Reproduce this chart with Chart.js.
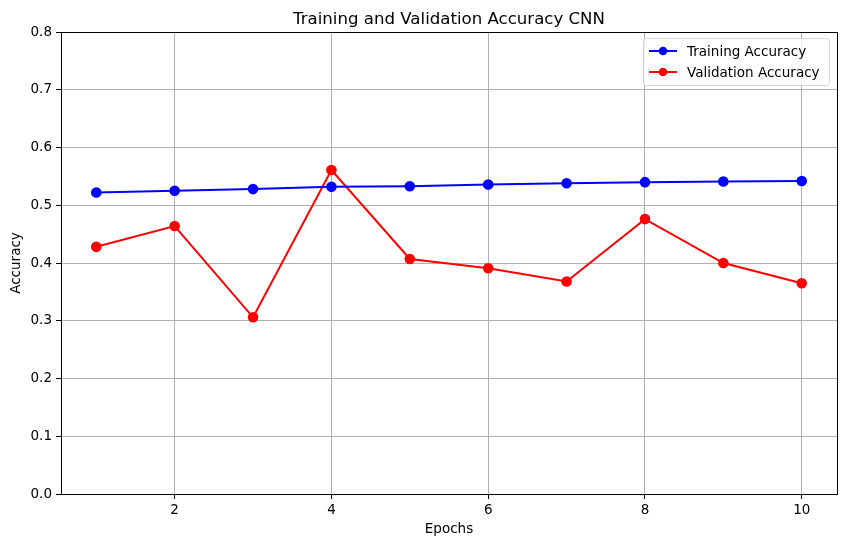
<!DOCTYPE html>
<html>
<head>
    <script src="https://cdn.jsdelivr.net/npm/chart.js@4.4.0/dist/chart.umd.min.js"></script>
    <style>
        html, body { margin: 0; padding: 0; background: #fff; }
        #wrap { width: 846px; height: 547px; }
    </style>
</head>
<body>
    <div id="wrap"><canvas id="grafico" width="846" height="547"></canvas></div>

    <script>
        const epochs = [1, 2, 3, 4, 5, 6, 7, 8, 9, 10];
        const trainAcc = [0.522, 0.525, 0.528, 0.532, 0.533, 0.536, 0.538, 0.540, 0.541, 0.542];
        const valAcc = [0.428, 0.464, 0.306, 0.561, 0.407, 0.391, 0.368, 0.476, 0.400, 0.365];
        const xTicks = [2, 4, 6, 8, 10];
        const yTicks = [0, 0.1, 0.2, 0.3, 0.4, 0.5, 0.6, 0.7, 0.8];

        const font = "'DejaVu Sans', sans-serif";

        function pts(vals) {
            return epochs.map((e, i) => ({ x: e, y: vals[i] }));
        }

        // frame, title and matplotlib-like legend
        const extras = {
            id: 'extras',
            afterDraw(chart) {
                const ctx = chart.ctx;
                const a = chart.chartArea;
                ctx.save();
                ctx.strokeStyle = '#000';
                ctx.lineWidth = 1;
                ctx.strokeRect(Math.round(a.left) + 0.5, Math.round(a.top) + 0.5,
                    Math.round(a.right - a.left), Math.round(a.bottom - a.top));

                ctx.fillStyle = '#000';
                ctx.font = '16.6px ' + font;
                ctx.textAlign = 'center';
                ctx.textBaseline = 'alphabetic';
                ctx.fillText('Training and Validation Accuracy CNN', (a.left + a.right) / 2, 24);

                // legend
                const bx = 643, by = 38, bw = 186, bh = 47;
                ctx.fillStyle = 'rgba(255,255,255,0.8)';
                ctx.strokeStyle = '#d6d6d6';
                ctx.beginPath();
                ctx.roundRect(bx + 0.5, by + 0.5, bw, bh, 3);
                ctx.fill();
                ctx.stroke();
                ctx.font = '13.5px ' + font;
                ctx.textAlign = 'left';
                ctx.textBaseline = 'middle';
                chart.data.datasets.forEach((ds, i) => {
                    const cy = by + 13 + i * 21;
                    ctx.strokeStyle = ds.borderColor;
                    ctx.lineWidth = 2;
                    ctx.beginPath();
                    ctx.moveTo(bx + 6, cy);
                    ctx.lineTo(bx + 34, cy);
                    ctx.stroke();
                    ctx.fillStyle = ds.backgroundColor;
                    ctx.beginPath();
                    ctx.arc(bx + 20, cy, 4.3, 0, Math.PI * 2);
                    ctx.fill();
                    ctx.fillStyle = '#000';
                    ctx.fillText(ds.label, bx + 44, cy + 1);
                });
                ctx.restore();
            }
        };

        const ctx = document.getElementById('grafico').getContext('2d');
        const chart = new Chart(ctx, {
            type: 'line',
            data: {
                datasets: [{
                    label: 'Training Accuracy',
                    data: pts(trainAcc),
                    borderColor: '#0000ff',
                    backgroundColor: '#0000ff',
                    borderWidth: 2,
                    pointRadius: 4.3,
                    pointHoverRadius: 4.3,
                    tension: 0
                }, {
                    label: 'Validation Accuracy',
                    data: pts(valAcc),
                    borderColor: '#ff0000',
                    backgroundColor: '#ff0000',
                    borderWidth: 2,
                    pointRadius: 4.3,
                    pointHoverRadius: 4.3,
                    tension: 0
                }]
            },
            options: {
                responsive: false,
                animation: false,
                layout: { padding: { left: 0, right: 9, top: 32, bottom: 0 } },
                plugins: {
                    legend: { display: false },
                    title: { display: false },
                    tooltip: { enabled: false }
                },
                scales: {
                    x: {
                        type: 'linear',
                        min: 0.55,
                        max: 10.45,
                        afterFit(s) { s.height = 53; },
                        afterBuildTicks(s) { s.ticks = xTicks.map(v => ({ value: v })); },
                        grid: { color: '#b0b0b0', tickColor: '#000', tickLength: 5, lineWidth: 1 },
                        border: { display: false },
                        ticks: { color: '#000', font: { family: font, size: 13.5 }, padding: 3, maxRotation: 0 },
                        title: { display: true, text: 'Epochs', color: '#000', font: { family: font, size: 13.5 }, padding: { top: 0, bottom: 9 } }
                    },
                    y: {
                        min: 0,
                        max: 0.8,
                        afterFit(s) { s.width = 61; },
                        afterBuildTicks(s) { s.ticks = yTicks.map(v => ({ value: v })); },
                        grid: { color: '#b0b0b0', tickColor: '#000', tickLength: 5, lineWidth: 1 },
                        border: { display: false },
                        ticks: {
                            color: '#000', font: { family: font, size: 13.5 }, padding: 4,
                            callback: v => v.toFixed(1)
                        },
                        title: { display: true, text: 'Accuracy', color: '#000', font: { family: font, size: 13.5 }, padding: { top: 8, bottom: 0 } }
                    }
                }
            },
            plugins: [extras]
        });
    </script>
</body>
</html>
